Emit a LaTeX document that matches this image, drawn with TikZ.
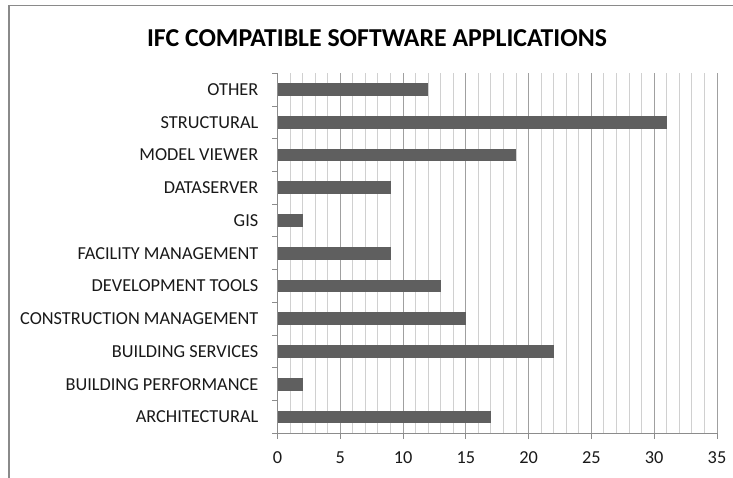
\documentclass[tikz,border=0pt]{standalone}
\usepackage{fontspec}
\setmainfont{Carlito}
\definecolor{framegray}{HTML}{8A8A8A}
\definecolor{minorgrid}{HTML}{D0D0D0}
\definecolor{majorgrid}{HTML}{A0A0A0}
\definecolor{axisgray}{HTML}{8C8C8C}
\definecolor{barfill}{HTML}{5F5F5F}
\begin{document}
\begin{tikzpicture}[x=1pt,y=-1pt,
  minorline/.style={draw=minorgrid,line width=1pt},
  majorline/.style={draw=majorgrid,line width=1pt},
  axisline/.style={draw=axisgray,line width=1pt},
  catlabel/.style={anchor=east,inner sep=0pt,font=\fontsize{18.3}{20}\selectfont,text=black!90},
  ticklabel/.style={anchor=center,inner sep=0pt,font=\fontsize{18.3}{20}\selectfont,text=black!90},
  barbox/.style={fill=barfill,draw=none}]
\useasboundingbox (0,0) rectangle (733,477);
\fill[white] (0,0) rectangle (733,477);
\draw[framegray,line width=1.6pt] (9,478) -- (9,5.5) -- (734,5.5);
\def\xo{277.5}
\def\u{12.557}
\def\yt{73.3}
\def\yb{433.3}
\def\h{32.727}
\node[font=\fontsize{25.8}{28}\selectfont\bfseries,inner sep=0pt] (title) at (377,38) {IFC COMPATIBLE SOFTWARE APPLICATIONS};
% grid
\foreach \i in {1,...,34} {\draw[minorline] ({\xo+\i*\u},\yt) -- ({\xo+\i*\u},\yb);}
\foreach \i in {5,10,...,35} {\draw[majorline] ({\xo+\i*\u},\yt) -- ({\xo+\i*\u},\yb);}
% bars
\foreach \v [count=\k from 0] in {12,31,19,9,2,9,13,15,22,2,17} {
  \fill[barbox] (\xo,{\yt+(\k+0.5)*\h-6.35}) rectangle ({\xo+\v*\u},{\yt+(\k+0.5)*\h+6.35});
}
% axes
\draw[axisline] (\xo,\yt) -- (\xo,\yb);
\foreach \k in {0,...,11} {\draw[axisline] ({\xo-5.5},{\yt+\k*\h}) -- (\xo,{\yt+\k*\h});}
\draw[axisline] (\xo,\yb) -- ({\xo+35*\u},\yb);
\foreach \j in {0,...,7} {\draw[axisline] ({\xo+\j*5*\u},\yb) -- ({\xo+\j*5*\u},{\yb+5.5});}
% category labels
\foreach \t [count=\k from 0] in {OTHER,STRUCTURAL,MODEL VIEWER,DATASERVER,GIS,FACILITY MANAGEMENT,DEVELOPMENT TOOLS,CONSTRUCTION MANAGEMENT,BUILDING SERVICES,BUILDING PERFORMANCE,ARCHITECTURAL} {
  \node[catlabel] (cat\k) at (258.5,{\yt+(\k+0.5)*\h}) {\t};
}
% tick labels
\foreach \j in {0,...,7} {
  \pgfmathtruncatemacro{\val}{\j*5}
  \node[ticklabel] (tick\j) at ({\xo+\j*5*\u},458) {\val};
}
\end{tikzpicture}
\end{document}
